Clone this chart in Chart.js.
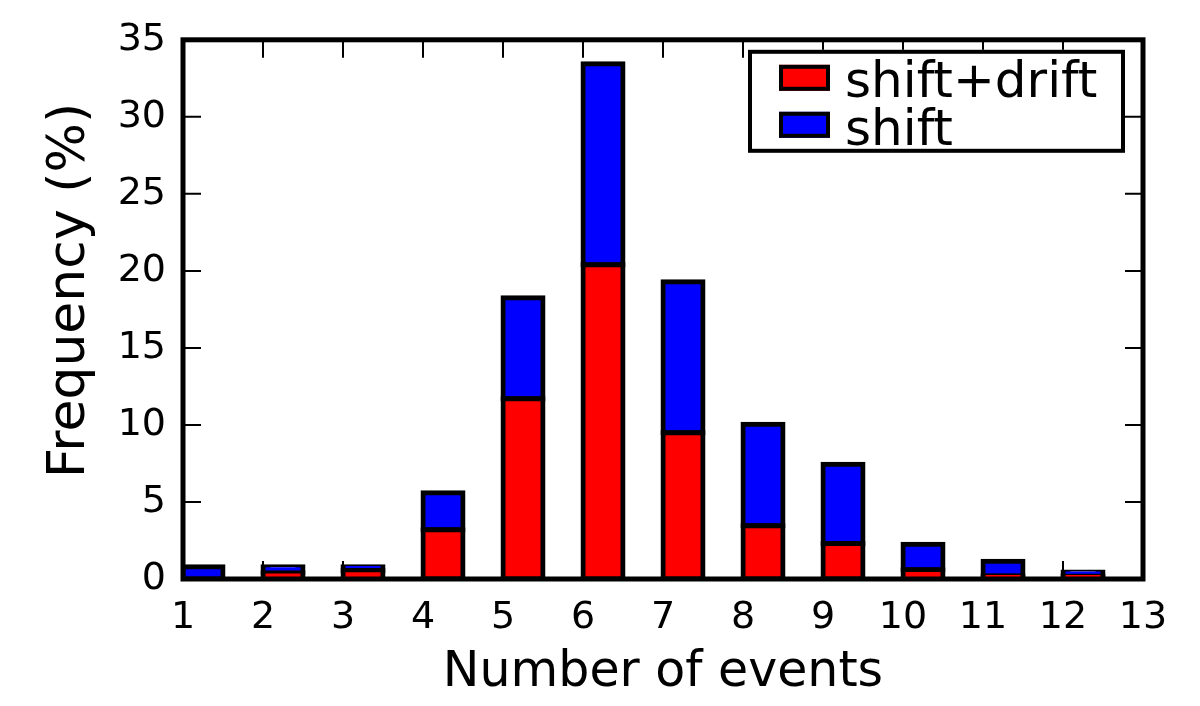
<!DOCTYPE html>
<html><head><meta charset="utf-8">
<script src="https://cdn.jsdelivr.net/npm/chart.js@4"></script>
<style>html,body{margin:0;padding:0;background:#fff}#wrap{width:1200px;height:706px}</style>
</head><body><div id="wrap"><canvas id="c"></canvas></div>
<script>
// Bin left edges (number of events)
const binStarts = [1, 2, 3, 4, 5, 6, 7, 8, 9, 10, 11, 12];
// Stacked heights (frequency, %)
const shiftDrift = [0, 0.4, 0.55, 3.2, 11.7, 20.4, 9.5, 3.45, 2.3, 0.6, 0.2, 0.2];
const shiftOnly  = [0.8, 0.4, 0.25, 2.4, 6.55, 13.05, 9.8, 6.6, 5.15, 1.65, 0.95, 0.25];
const xTicks = [1, 2, 3, 4, 5, 6, 7, 8, 9, 10, 11, 12, 13];
const yTicks = [0, 5, 10, 15, 20, 25, 30, 35];
const seriesLabels = ['shift+drift', 'shift'];
const seriesColors = ['#ff0000', '#0000ff'];
const xTitle = 'Number of events';
const yTitle = 'Frequency (%)';

const FONT = 'DejaVu Sans';
const BIN_WIDTH = 0.5;
const pts = arr => arr.map((v, i) => ({ x: binStarts[i] + BIN_WIDTH / 2, y: v }));

const framePlugin = {
  id: 'frame',
  afterDatasetsDraw(chart) {
    const { ctx, chartArea: a, scales: { x, y } } = chart;
    ctx.save();
    ctx.strokeStyle = '#000';
    ctx.lineWidth = 2;
    const L = 18;
    ctx.beginPath();
    xTicks.forEach(v => {
      const px = x.getPixelForValue(v);
      ctx.moveTo(px, a.bottom); ctx.lineTo(px, a.bottom - L);
      ctx.moveTo(px, a.top); ctx.lineTo(px, a.top + L);
    });
    yTicks.forEach(v => {
      const py = y.getPixelForValue(v);
      ctx.moveTo(a.left, py); ctx.lineTo(a.left + L, py);
      ctx.moveTo(a.right, py); ctx.lineTo(a.right - L, py);
    });
    ctx.stroke();
    ctx.lineWidth = 5;
    ctx.strokeRect(a.left, a.top, a.right - a.left, a.bottom - a.top);
    ctx.restore();
  },
  afterDraw(chart) {
    const { ctx, chartArea: a } = chart;
    // y axis title
    ctx.save();
    ctx.translate(70, (a.top + a.bottom) / 2 - 19);
    ctx.rotate(-Math.PI / 2);
    ctx.font = '52px "' + FONT + '"';
    ctx.fillStyle = '#000';
    ctx.textAlign = 'center';
    ctx.textBaseline = 'middle';
    ctx.fillText(yTitle, 0, 0);
    ctx.restore();
    // legend
    const bx = a.right - 18 - 377, by = a.top + 10, bw = 377, bh = 103;
    ctx.save();
    ctx.fillStyle = '#fff';
    ctx.fillRect(bx, by, bw, bh);
    ctx.strokeStyle = '#000';
    ctx.lineWidth = 4;
    ctx.strokeRect(bx + 2, by + 2, bw - 4, bh - 4);
    ctx.font = '50px "' + FONT + '"';
    ctx.textBaseline = 'alphabetic';
    ctx.textAlign = 'left';
    chart.data.datasets.forEach((ds, i) => {
      const py = by + 15 + i * 47;
      ctx.fillStyle = ds.backgroundColor;
      ctx.fillRect(bx + 31, py, 51, 26);
      ctx.strokeStyle = '#000';
      ctx.lineWidth = 4;
      ctx.strokeRect(bx + 33, py + 2, 47, 22);
      ctx.fillStyle = '#000';
      ctx.fillText(ds.label, bx + 97, by + 47 + i * 48);
    });
    ctx.restore();
  }
};

new Chart(document.getElementById('c'), {
  type: 'bar',
  data: {
    datasets: [
      { label: seriesLabels[0], data: pts(shiftDrift), backgroundColor: seriesColors[0] },
      { label: seriesLabels[1], data: pts(shiftOnly), backgroundColor: seriesColors[1] }
    ]
  },
  options: {
    responsive: true,
    maintainAspectRatio: false,
    animation: false,
    layout: { padding: { top: 35, right: 57, left: 0, bottom: 0 } },
    datasets: {
      bar: {
        borderColor: '#000',
        borderWidth: 5,
        borderSkipped: false,
        inflateAmount: 2.5,
        categoryPercentage: 1,
        barPercentage: 0.5
      }
    },
    plugins: { legend: { display: false }, tooltip: { enabled: false } },
    scales: {
      x: {
        type: 'linear', min: 1, max: 13, stacked: true, offset: false,
        grid: { display: false, drawTicks: false, offset: false }, border: { display: false },
        afterBuildTicks: s => { s.ticks = xTicks.map(v => ({ value: v })); },
        ticks: { autoSkip: false, maxRotation: 0, padding: 16, color: '#000', font: { family: FONT, size: 38 } },
        title: { display: true, text: xTitle, color: '#000', font: { family: FONT, size: 49, lineHeight: 1 }, padding: { top: 0, bottom: 8.5 } },
        afterFit: s => { s.height = 127; }
      },
      y: {
        min: 0, max: 35, stacked: true,
        grid: { display: false, drawTicks: false }, border: { display: false },
        afterBuildTicks: s => { s.ticks = yTicks.map(v => ({ value: v })); },
        ticks: { padding: 17, color: '#000', font: { family: FONT, size: 38 } },
        title: { display: false, text: yTitle },
        afterFit: s => { s.width = 183; }
      }
    }
  },
  plugins: [framePlugin]
});
</script>
</body></html>
